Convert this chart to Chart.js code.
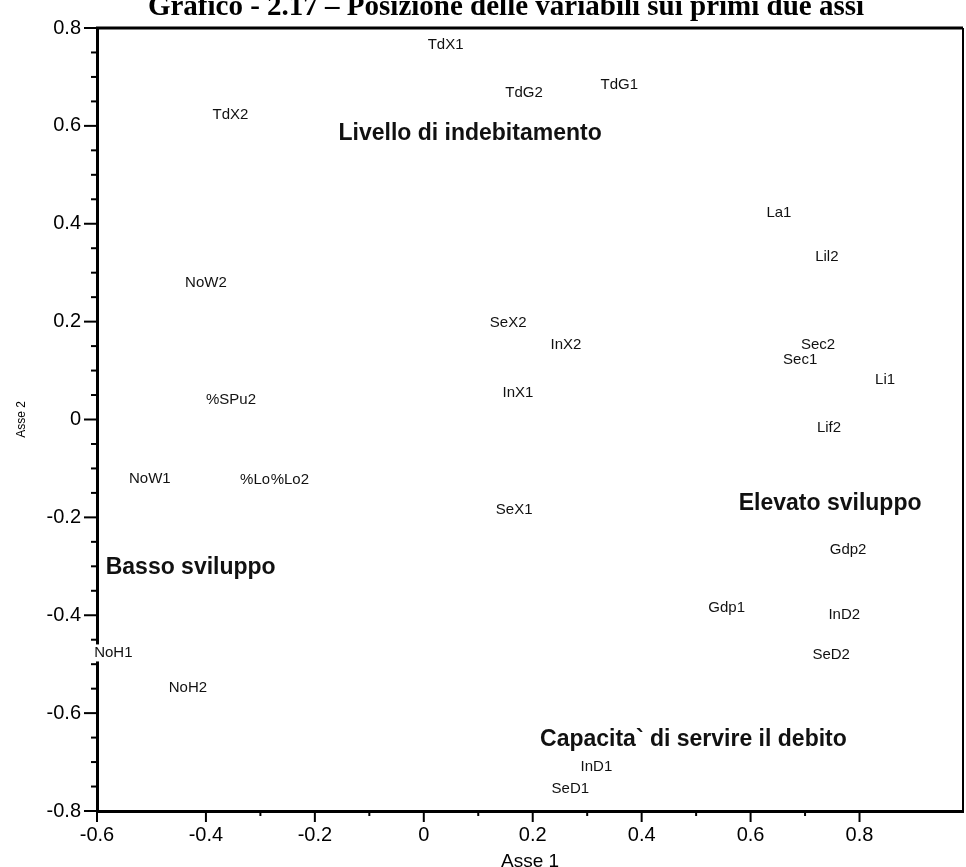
<!DOCTYPE html>
<html><head><meta charset="utf-8">
<script src="https://cdn.jsdelivr.net/npm/chart.js@4.4.0/dist/chart.umd.min.js"></script>
<style>html,body{margin:0;padding:0;background:#fff;overflow:hidden}#wrap{position:relative;width:966px;height:867px}</style>
</head><body><div id="wrap"><canvas id="c" width="966" height="867"></canvas></div>
<script>
// ---- data ----
const chartTitle = 'Grafico - 2.17 \u2013 Posizione delle variabili sui primi due assi';
const variables = ['TdX1','TdG2','TdG1','TdX2','La1','Lil2','NoW2','SeX2','InX2','Sec2','Sec1','Li1','InX1','%SPu2','Lif2','NoW1','%Lo1','%Lo2','SeX1','Gdp2','Gdp1','InD2','NoH1','SeD2','NoH2','InD1','SeD1'];
const asse1 = [0.040,0.184,0.359,-0.355,0.652,0.740,-0.400,0.155,0.261,0.724,0.691,0.847,0.173,-0.354,0.744,-0.503,-0.302,-0.246,0.166,0.779,0.556,0.772,-0.570,0.748,-0.433,0.317,0.269];
const asse2 = [0.765,0.667,0.683,0.622,0.422,0.332,0.279,0.197,0.152,0.152,0.122,0.081,0.054,0.040,-0.018,-0.122,-0.124,-0.124,-0.185,-0.267,-0.385,-0.399,-0.477,-0.481,-0.549,-0.710,-0.755];
const groupNames = ['Livello di indebitamento','Elevato sviluppo','Basso sviluppo','Capacita` di servire il debito'];
const groupAsse1 = [0.085,0.746,-0.428,0.495];
const groupAsse2 = [0.585,-0.171,-0.303,-0.655];
const xTickLabels = ['-0.6','-0.4','-0.2','0','0.2','0.4','0.6','0.8'];
const yTickLabels = ['-0.8','-0.6','-0.4','-0.2','0','0.2','0.4','0.6','0.8'];
const xTitle = 'Asse 1';
const yTitle = 'Asse 2';

const fmt = v => { const r = Math.round(v * 100) / 100; return r === 0 ? '0' : String(r); };

const varPoints = variables.map((n, i) => ({x: asse1[i], y: asse2[i], label: n}));
const groupPoints = groupNames.map((n, i) => ({x: groupAsse1[i], y: groupAsse2[i], label: n}));

const decor = {
  id: 'decor',
  beforeDraw(chart) {
    const ctx = chart.ctx;
    ctx.save(); ctx.fillStyle = '#fff'; ctx.fillRect(0, 0, chart.width, chart.height); ctx.restore();
  },
  afterDraw(chart) {
    const ctx = chart.ctx, a = chart.chartArea;
    const xs = chart.scales.x, ys = chart.scales.y;
    ctx.save();
    ctx.strokeStyle = '#000';
    ctx.lineWidth = 3;
    ctx.beginPath(); ctx.moveTo(a.left - 1, a.top); ctx.lineTo(a.right, a.top); ctx.stroke();
    ctx.lineWidth = 2;
    ctx.beginPath(); ctx.moveTo(a.right, a.top); ctx.lineTo(a.right, a.bottom); ctx.stroke();
    ctx.lineWidth = 2;
    xs.ticks.forEach(t => {
      const v = Math.round(t.value * 10) / 10;
      if (Math.abs(v - t.value) > 1e-6) return;
      const p = xs.getPixelForValue(t.value);
      const major = xTickLabels.includes(fmt(t.value));
      ctx.beginPath(); ctx.moveTo(p, a.bottom); ctx.lineTo(p, a.bottom + (major ? 11 : 5)); ctx.stroke();
    });
    ys.ticks.forEach(t => {
      const p = ys.getPixelForValue(t.value);
      const major = yTickLabels.includes(fmt(t.value));
      ctx.beginPath(); ctx.moveTo(a.left, p); ctx.lineTo(a.left - (major ? 13 : 6), p); ctx.stroke();
    });
    ctx.fillStyle = '#000';
    ctx.font = 'bold 29px "Liberation Serif"';
    ctx.textAlign = 'center'; ctx.textBaseline = 'alphabetic';
    ctx.fillText(chartTitle, 506, 15);
    ctx.textBaseline = 'middle';
    const drawSet = (idx, size, font, pad) => {
      const meta = chart.getDatasetMeta(idx);
      const data = chart.data.datasets[idx].data;
      ctx.font = font;
      meta.data.forEach((el, i) => {
        const txt = data[i].label;
        const w = ctx.measureText(txt).width;
        ctx.fillStyle = '#fff';
        ctx.fillRect(el.x - w / 2 - pad, el.y - size / 2 - 1, w + 2 * pad, size + 2);
        ctx.fillStyle = '#111';
        ctx.fillText(txt, el.x, el.y);
      });
    };
    drawSet(0, 15, '15px "Liberation Sans"', 1);
    drawSet(1, 23, 'bold 23px "Liberation Sans"', 0);
    ctx.restore();
  }
};

new Chart(document.getElementById('c'), {
  type: 'scatter',
  data: {
    datasets: [
      {label: 'Variabili', data: varPoints, pointRadius: 0, pointHoverRadius: 0, showLine: false},
      {label: 'Gruppi', data: groupPoints, pointRadius: 0, pointHoverRadius: 0, showLine: false}
    ]
  },
  options: {
    responsive: false,
    animation: false,
    devicePixelRatio: 1,
    layout: {padding: {top: 28, right: 3, left: 0, bottom: 0}},
    plugins: {legend: {display: false}, tooltip: {enabled: false}, title: {display: false}},
    scales: {
      x: {
        type: 'linear', position: 'bottom', min: -0.6, max: 0.99,
        ticks: {stepSize: 0.1, autoSkip: false, maxRotation: 0, color: '#000', padding: 12,
          font: {family: 'Liberation Sans', size: 20},
          callback: v => xTickLabels.includes(fmt(v)) ? fmt(v) : ''},
        grid: {display: true, drawOnChartArea: false, drawTicks: false},
        border: {display: true, color: '#000', width: 3},
        title: {display: true, text: xTitle, color: '#000', font: {family: 'Liberation Sans', size: 19}, padding: {top: 0, bottom: -6}},
        afterFit: s => { s.height = 56; s.paddingLeft = 0; s.paddingRight = 0; }
      },
      y: {
        type: 'linear', position: 'left', min: -0.8, max: 0.8,
        ticks: {stepSize: 0.05, autoSkip: false, color: '#000', padding: 16,
          font: {family: 'Liberation Sans', size: 20},
          callback: v => yTickLabels.includes(fmt(v)) ? fmt(v) : ''},
        grid: {display: true, drawOnChartArea: false, drawTicks: false},
        border: {display: true, color: '#000', width: 3},
        title: {display: true, text: yTitle, color: '#000', font: {family: 'Liberation Sans', size: 12}, padding: {top: 14, bottom: 0}},
        afterFit: s => { s.width = 97; s.paddingTop = 0; s.paddingBottom = 0; }
      }
    }
  },
  plugins: [decor]
});
</script></body></html>
